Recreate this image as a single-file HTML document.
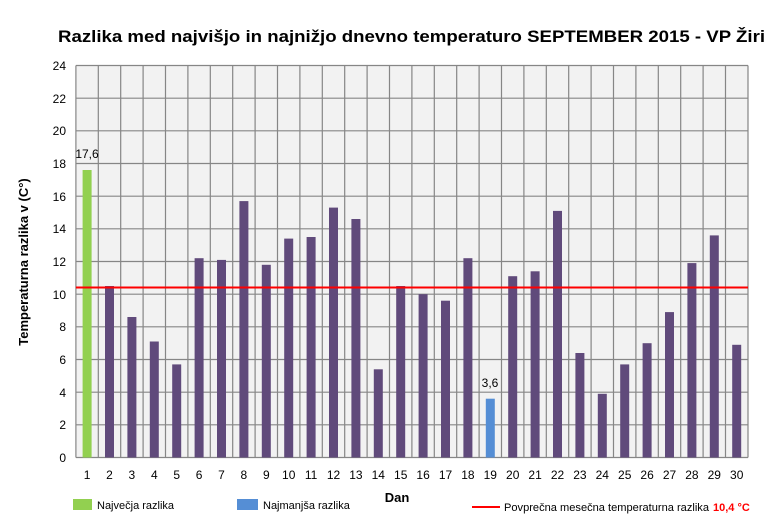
<!DOCTYPE html>
<html><head><meta charset="utf-8"><style>
html,body{margin:0;padding:0;background:#fff}
svg{display:block;font-family:"Liberation Sans",sans-serif}
</style></head><body>
<svg width="770" height="518" viewBox="0 0 770 518" xmlns="http://www.w3.org/2000/svg">
<text x="58" y="42" font-size="17" font-weight="bold" textLength="707" lengthAdjust="spacingAndGlyphs">Razlika med najvišjo in najnižjo dnevno temperaturo SEPTEMBER 2015 - VP Žiri</text>
<rect x="75.9" y="65.5" width="672.1" height="392" fill="#f2f2f2"/>
<g stroke="#868686" stroke-width="1.2" fill="none">
<path d="M75.9 65.5V457.5M98.3 65.5V457.5M120.7 65.5V457.5M143.1 65.5V457.5M165.5 65.5V457.5M187.9 65.5V457.5M210.3 65.5V457.5M232.7 65.5V457.5M255.1 65.5V457.5M277.5 65.5V457.5M299.9 65.5V457.5M322.3 65.5V457.5M344.7 65.5V457.5M367.1 65.5V457.5M389.5 65.5V457.5M411.9 65.5V457.5M434.3 65.5V457.5M456.7 65.5V457.5M479.1 65.5V457.5M501.5 65.5V457.5M523.9 65.5V457.5M546.3 65.5V457.5M568.7 65.5V457.5M591.1 65.5V457.5M613.5 65.5V457.5M635.9 65.5V457.5M658.3 65.5V457.5M680.7 65.5V457.5M703.1 65.5V457.5M725.5 65.5V457.5M748 65.5V457.5"/>
<path d="M75.9 65.5H748M75.9 98.2H748M75.9 130.8H748M75.9 163.5H748M75.9 196.2H748M75.9 228.8H748M75.9 261.5H748M75.9 294.2H748M75.9 326.8H748M75.9 359.5H748M75.9 392.2H748M75.9 424.8H748M75.9 457.5H748"/>
</g>
<g fill="#604a7b">
<rect x="105.0" y="286" width="9" height="171.5"/>
<rect x="127.4" y="317" width="9" height="140.5"/>
<rect x="149.8" y="341.5" width="9" height="116"/>
<rect x="172.2" y="364.4" width="9" height="93.1"/>
<rect x="194.6" y="258.2" width="9" height="199.3"/>
<rect x="217.0" y="259.9" width="9" height="197.6"/>
<rect x="239.4" y="201.1" width="9" height="256.4"/>
<rect x="261.8" y="264.8" width="9" height="192.7"/>
<rect x="284.2" y="238.6" width="9" height="218.9"/>
<rect x="306.6" y="237" width="9" height="220.5"/>
<rect x="329.0" y="207.6" width="9" height="249.9"/>
<rect x="351.4" y="219" width="9" height="238.5"/>
<rect x="373.8" y="369.3" width="9" height="88.2"/>
<rect x="396.2" y="286" width="9" height="171.5"/>
<rect x="418.6" y="294.2" width="9" height="163.3"/>
<rect x="441.0" y="300.7" width="9" height="156.8"/>
<rect x="463.4" y="258.2" width="9" height="199.3"/>
<rect x="508.2" y="276.2" width="9" height="181.3"/>
<rect x="530.6" y="271.3" width="9" height="186.2"/>
<rect x="553.0" y="210.9" width="9" height="246.6"/>
<rect x="575.4" y="353" width="9" height="104.5"/>
<rect x="597.8" y="393.8" width="9" height="63.7"/>
<rect x="620.2" y="364.4" width="9" height="93.1"/>
<rect x="642.6" y="343.2" width="9" height="114.3"/>
<rect x="665.0" y="312.1" width="9" height="145.4"/>
<rect x="687.4" y="263.1" width="9" height="194.4"/>
<rect x="709.8" y="235.4" width="9" height="222.1"/>
<rect x="732.2" y="344.8" width="9" height="112.7"/>
</g>
<rect x="82.6" y="170" width="9" height="287.5" fill="#92d050"/>
<rect x="485.8" y="398.7" width="9" height="58.8" fill="#558ed5"/>
<line x1="75.9" y1="287.5" x2="748" y2="287.5" stroke="#ff0000" stroke-width="2"/>
<g font-size="12" fill="#000">
<text x="87" y="158" text-anchor="middle">17,6</text>
<text x="490" y="387" text-anchor="middle">3,6</text>
</g>
<g font-size="12" text-anchor="end">
<text x="66" y="70">24</text><text x="66" y="103">22</text><text x="66" y="135">20</text><text x="66" y="168">18</text><text x="66" y="201">16</text><text x="66" y="233">14</text><text x="66" y="266">12</text><text x="66" y="299">10</text><text x="66" y="331">8</text><text x="66" y="364">6</text><text x="66" y="397">4</text><text x="66" y="429">2</text><text x="66" y="462">0</text>
</g>
<g font-size="12" text-anchor="middle">
<text x="87.1" y="479">1</text><text x="109.5" y="479">2</text><text x="131.9" y="479">3</text><text x="154.3" y="479">4</text><text x="176.7" y="479">5</text><text x="199.1" y="479">6</text><text x="221.5" y="479">7</text><text x="243.9" y="479">8</text><text x="266.3" y="479">9</text><text x="288.7" y="479">10</text><text x="311.1" y="479">11</text><text x="333.5" y="479">12</text><text x="355.9" y="479">13</text><text x="378.3" y="479">14</text><text x="400.7" y="479">15</text><text x="423.1" y="479">16</text><text x="445.5" y="479">17</text><text x="467.9" y="479">18</text><text x="490.3" y="479">19</text><text x="512.7" y="479">20</text><text x="535.1" y="479">21</text><text x="557.5" y="479">22</text><text x="579.9" y="479">23</text><text x="602.3" y="479">24</text><text x="624.7" y="479">25</text><text x="647.1" y="479">26</text><text x="669.5" y="479">27</text><text x="691.9" y="479">28</text><text x="714.3" y="479">29</text><text x="736.7" y="479">30</text>
</g>
<text x="397" y="502" font-size="13" font-weight="bold" text-anchor="middle">Dan</text>
<text transform="translate(28,262) rotate(-90)" font-size="13" font-weight="bold" text-anchor="middle">Temperaturna razlika v (C°)</text>
<rect x="73" y="499" width="19" height="11" fill="#92d050"/>
<text x="97" y="509" font-size="11">Največja razlika</text>
<rect x="237" y="499" width="21" height="11" fill="#558ed5"/>
<text x="263" y="509" font-size="11">Najmanjša razlika</text>
<line x1="472" y1="507" x2="500" y2="507" stroke="#ff0000" stroke-width="2"/>
<text x="504" y="511" font-size="11" textLength="205" lengthAdjust="spacingAndGlyphs">Povprečna mesečna temperaturna razlika</text>
<text x="713" y="511" font-size="11" font-weight="bold" fill="#ff0000">10,4 °C</text>
</svg>
</body></html>
